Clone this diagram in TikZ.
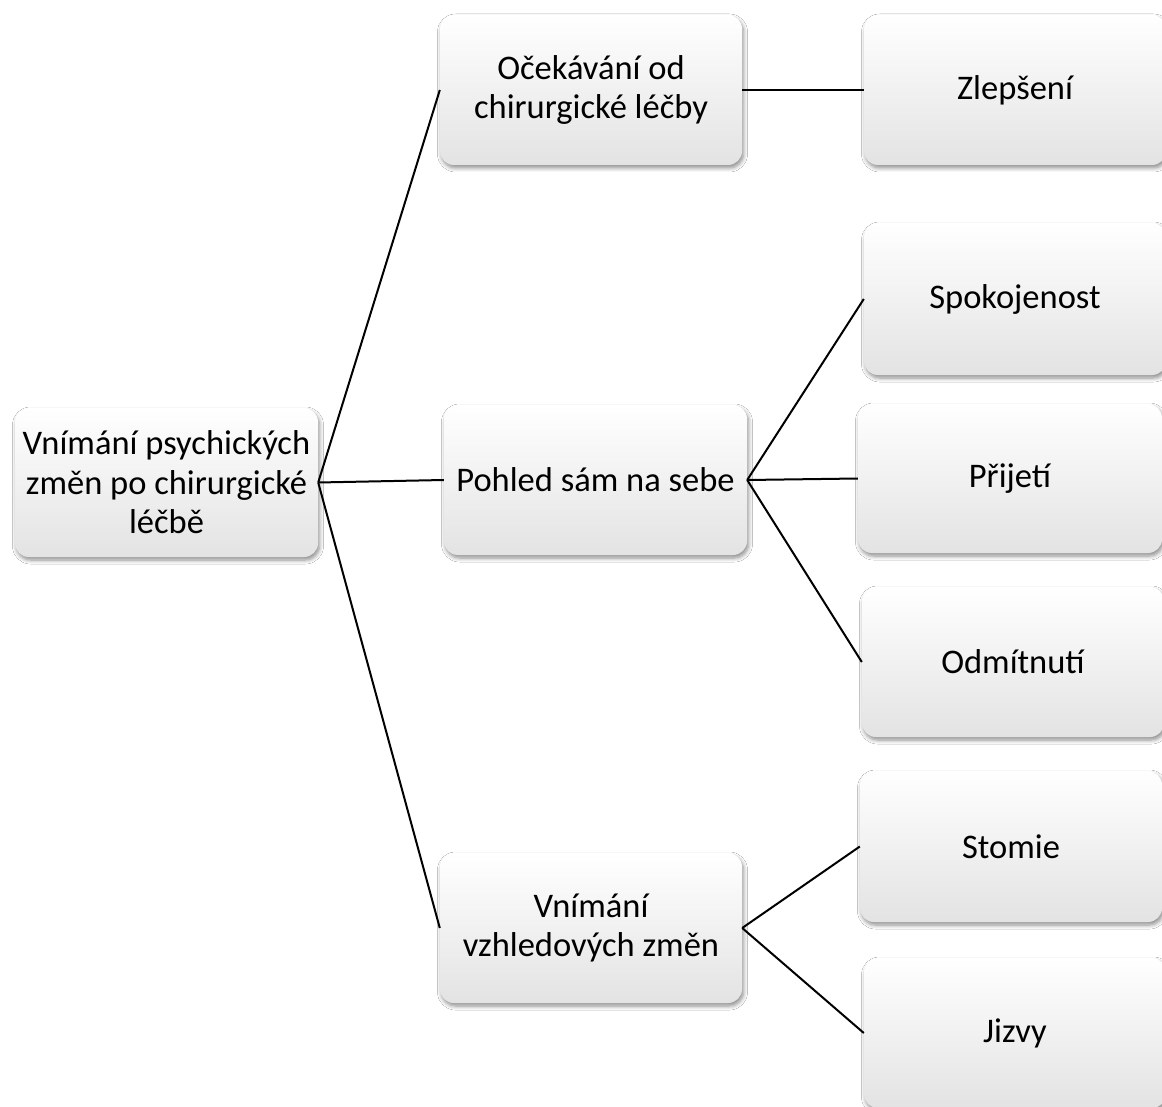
\documentclass[tikz,border=0pt]{standalone}
\usepackage{fontspec}
\setmainfont{Carlito}
\usetikzlibrary{shadows.blur}
\begin{document}
\begin{tikzpicture}[x=1pt,y=-1pt,
  box/.style={rectangle, rounded corners=14pt, minimum width=302pt, minimum height=150pt,
    align=center, inner sep=4pt,
    top color=white, middle color=white, bottom color=black!11,
    blur shadow={shadow xshift=1.5pt, shadow yshift=-3pt, shadow blur steps=6, shadow opacity=45, shadow blur radius=4pt},
    font=\fontsize{34.5}{39.5}\selectfont},
  link/.style={draw=black, line width=2pt}]
\useasboundingbox (0,0) rectangle (1162,1107);
\fill[white] (0,0) rectangle (1162,1107);

\node[box, minimum width=303pt, minimum height=149pt] (root) at (166.5,482.5) {Vnímání psychických\\změn po chirurgické\\léčbě};

\node[box] (exp) at (591,90) {Očekávání od\\chirurgické léčby};
\node[box, minimum width=303pt] (self) at (595.5,480) {Pohled sám na sebe};
\node[box] (look) at (591,928) {Vnímání\\vzhledových změn};

\node[box] (better) at (1015,90) {Zlepšení};
\node[box, minimum height=152pt] (satisf) at (1015,299) {Spokojenost};
\node[box, minimum width=304pt, minimum height=149pt] (accept) at (1010,478.5) {Přijetí};
\node[box] (reject) at (1013,662) {Odmítnutí};
\node[box, minimum height=151pt] (stoma) at (1011,846.5) {Stomie};
\node[box] (scars) at (1015,1033) {Jizvy};

\draw[link] (root.east) -- (exp.west);
\draw[link] (root.east) -- (self.west);
\draw[link] (root.east) -- (look.west);
\draw[link] (exp.east) -- (better.west);
\draw[link] (self.east) -- (satisf.west);
\draw[link] (self.east) -- (accept.west);
\draw[link] (self.east) -- (reject.west);
\draw[link] (look.east) -- (stoma.west);
\draw[link] (look.east) -- (scars.west);
\end{tikzpicture}
\end{document}
